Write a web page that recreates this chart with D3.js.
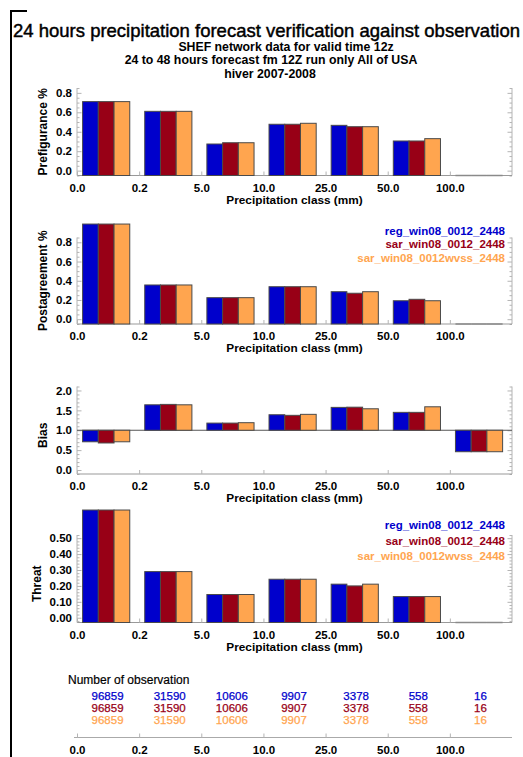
<!DOCTYPE html>
<html>
<head>
<meta charset="utf-8">
<script src="https://cdn.jsdelivr.net/npm/d3@7"></script>
<style>
  html, body { margin: 0; padding: 0; background: #fff; }
  svg { display: block; }
  text { font-family: "Liberation Sans", Arial, Helvetica, sans-serif; }
</style>
</head>
<body>
<div id="chart"></div>
<script>
// ---------------- DATA ----------------
const categories = ["0.0", "0.2", "5.0", "10.0", "25.0", "50.0", "100.0"];
const seriesNames = ["reg_win08_0012_2448", "sar_win08_0012_2448", "sar_win08_0012wvss_2448"];
const seriesColors = ["#0000cc", "#980016", "#ffa54f"];

const prefRegWin = [0.71, 0.61, 0.274, 0.477, 0.466, 0.305, null];
const prefSarWin = [0.71, 0.61, 0.287, 0.477, 0.452, 0.305, null];
const prefSarWvss = [0.71, 0.61, 0.287, 0.487, 0.452, 0.329, null];

const postRegWin = [0.99, 0.356, 0.224, 0.338, 0.286, 0.192, null];
const postSarWin = [0.99, 0.356, 0.224, 0.338, 0.270, 0.207, null];
const postSarWvss = [0.99, 0.356, 0.224, 0.338, 0.286, 0.192, null];

const biasRegWin = [0.71, 1.64, 1.18, 1.39, 1.575, 1.45, 0.46];
const biasSarWin = [0.68, 1.65, 1.18, 1.375, 1.58, 1.45, 0.46];
const biasSarWvss = [0.71, 1.64, 1.19, 1.40, 1.54, 1.59, 0.46];

const threatRegWin = [0.677, 0.29, 0.146, 0.242, 0.211, 0.133, null];
const threatSarWin = [0.677, 0.29, 0.146, 0.242, 0.200, 0.133, null];
const threatSarWvss = [0.677, 0.29, 0.146, 0.242, 0.211, 0.133, null];

const obsRegWin = [96859, 31590, 10606, 9907, 3378, 558, 16];
const obsSarWin = [96859, 31590, 10606, 9907, 3378, 558, 16];
const obsSarWvss = [96859, 31590, 10606, 9907, 3378, 558, 16];

const prefTicks = [0.0, 0.2, 0.4, 0.6, 0.8];
const postTicks = [0.0, 0.2, 0.4, 0.6, 0.8];
const biasTicks = [0.0, 0.5, 1.0, 1.5, 2.0];
const threatTicks = [0.0, 0.1, 0.2, 0.3, 0.4, 0.5];

const titleText = "24 hours precipitation forecast verification against observation";
const subtitles = ["SHEF network data for valid time 12z",
                   "24 to 48 hours forecast fm 12Z run only All of USA",
                   "hiver 2007-2008"];
const xTitle = "Precipitation class (mm)";
const obsTitle = "Number of observation";

// ---------------- LAYOUT ----------------
const W = 523, H = 757;
const svg = d3.select("#chart").append("svg").attr("width", W).attr("height", H);
svg.append("rect").attr("width", W).attr("height", H).attr("fill", "#fff");

const x = d3.scaleLinear().domain([0, categories.length]).range([77, 512]);
const groupOffset = 0.09, barW = 0.253;

const panels = [
  { label: "Prefigurance %", top: 88, bottom: 175.5, domain: [-0.05, 0.85], ticks: prefTicks, fmt: ".1f", minor: 0.05,
    data: [prefRegWin, prefSarWin, prefSarWvss], base: null, labelX: 43, labelDy: 0, legend: null },
  { label: "Postagreement %", top: 237.5, bottom: 324, domain: [-0.05, 0.85], ticks: postTicks, fmt: ".1f", minor: 0.05,
    data: [postRegWin, postSarWin, postSarWvss], base: null, labelX: 43, labelDy: 0, legend: [234.8, 247.5, 261.8] },
  { label: "Bias", top: 386.5, bottom: 474, domain: [-0.1, 2.1], ticks: biasTicks, fmt: ".1f", minor: 0.1,
    data: [biasRegWin, biasSarWin, biasSarWvss], base: 1.0, labelX: 43, labelDy: 5, legend: null },
  { label: "Threat", top: 535, bottom: 622.5, domain: [-0.03, 0.52], ticks: threatTicks, fmt: ".2f", minor: 0.02,
    data: [threatRegWin, threatSarWin, threatSarWvss], base: null, labelX: 37, labelDy: 5, legend: [529, 544.7, 559.7] }
];

const axisGray = "#b4b4b4";

// Border
svg.append("path").attr("d", "M11,757V11H27").attr("fill", "none").attr("stroke", "#000").attr("stroke-width", 2);

// Titles
const t = svg.append("text").attr("x", 13).attr("y", 37).attr("font-size", 17).attr("fill", "#000")
  .attr("stroke", "#000").attr("stroke-width", 0.45).text(titleText);
const tw = t.node().getComputedTextLength();
t.attr("font-size", 17 * 507 / tw);

const subX = [286, 271, 270], subY = [51, 64, 78];
subtitles.forEach((s, i) => {
  svg.append("text").attr("x", subX[i]).attr("y", subY[i]).attr("text-anchor", "middle")
    .attr("font-size", 12.3).attr("font-weight", "bold").text(s);
});

panels.forEach(p => {
  const y = d3.scaleLinear().domain(p.domain).range([p.bottom, p.top]);
  const g = svg.append("g");
  const minorVals = d3.range(Math.ceil(p.domain[0] / p.minor) * p.minor, p.domain[1] + 1e-9, p.minor)
      .filter(v => !p.ticks.some(m => Math.abs(m - v) < 1e-6));

  // left axis
  const la = g.append("g").attr("transform", `translate(${x.range()[0]},0)`)
    .call(d3.axisLeft(y).tickValues(p.ticks).tickSize(-4.5).tickPadding(5).tickFormat(d3.format(p.fmt)));
  la.select(".domain").attr("stroke", axisGray).attr("d", `M0,${p.top}V${p.bottom}`);
  la.selectAll(".tick line").attr("stroke", axisGray);
  la.selectAll(".tick text").attr("font-size", 11.5).attr("font-weight", "bold").attr("fill", "#000")
    .attr("font-family", "Liberation Sans, Arial, sans-serif");
  const lm = g.append("g").attr("transform", `translate(${x.range()[0]},0)`)
    .call(d3.axisLeft(y).tickValues(minorVals).tickSize(-2.5).tickFormat(""));
  lm.select(".domain").remove();
  lm.selectAll(".tick line").attr("stroke", axisGray);

  // right axis
  const ra = g.append("g").attr("transform", `translate(${x.range()[1]},0)`)
    .call(d3.axisRight(y).tickValues(p.ticks).tickSize(-4.5).tickFormat(""));
  ra.select(".domain").attr("stroke", axisGray).attr("d", `M0,${p.top}V${p.bottom}`);
  ra.selectAll(".tick line").attr("stroke", axisGray);
  const rm = g.append("g").attr("transform", `translate(${x.range()[1]},0)`)
    .call(d3.axisRight(y).tickValues(minorVals).tickSize(-2.5).tickFormat(""));
  rm.select(".domain").remove();
  rm.selectAll(".tick line").attr("stroke", axisGray);

  // bottom axis
  const ba = g.append("g").attr("transform", `translate(0,${p.bottom})`)
    .call(d3.axisBottom(x).tickValues(d3.range(categories.length)).tickSize(-4).tickPadding(8)
      .tickFormat(i => categories[i]));
  ba.select(".domain").attr("stroke", "#999").attr("d", `M${x.range()[0]},0H${x.range()[1]}`);
  ba.selectAll(".tick line").attr("stroke", axisGray);
  ba.selectAll(".tick text").attr("font-size", 11.5).attr("font-weight", "bold").attr("fill", "#000")
    .attr("font-family", "Liberation Sans, Arial, sans-serif");

  // axis titles
  g.append("text").attr("x", (x.range()[0] + x.range()[1]) / 2).attr("y", p.bottom + 28)
    .attr("text-anchor", "middle").attr("font-size", 11.8).attr("font-weight", "bold").text(xTitle);
  const cy = (p.top + p.bottom) / 2 + p.labelDy;
  g.append("text").attr("transform", `translate(${p.labelX + 4},${cy}) rotate(-90)`)
    .attr("text-anchor", "middle").attr("font-size", 12).attr("font-weight", "bold").text(p.label);

  // base line for bias
  const baseVal = p.base !== null ? p.base : p.domain[0];
  if (p.base !== null) {
    g.append("line").attr("x1", x.range()[0]).attr("x2", x.range()[1])
      .attr("y1", y(p.base)).attr("y2", y(p.base)).attr("stroke", "#555").attr("stroke-width", 1);
  }

  // bars
  p.data.forEach((vals, s) => {
    vals.forEach((v, i) => {
      const x0 = x(i + groupOffset + s * barW);
      const w = x(barW) - x(0);
      if (v === null) {
        g.append("line").attr("x1", x0).attr("x2", x0 + w).attr("y1", y(baseVal)).attr("y2", y(baseVal))
          .attr("stroke", "#8a8a8a").attr("stroke-width", 1.5);
      } else {
        const y0 = y(baseVal), y1 = y(v);
        g.append("rect").attr("x", x0).attr("width", w)
          .attr("y", Math.min(y0, y1)).attr("height", Math.abs(y0 - y1))
          .attr("fill", seriesColors[s]).attr("stroke", "#4a4a4a").attr("stroke-width", 1);
      }
    });
  });

  // legend
  if (p.legend) {
    seriesNames.forEach((n, s) => {
      g.append("text").attr("x", 505).attr("y", p.legend[s]).attr("text-anchor", "end")
        .attr("font-size", 11.5).attr("font-weight", "bold").attr("fill", seriesColors[s]).text(n);
    });
  }
});

// Number of observation table
svg.append("text").attr("x", 68).attr("y", 683.5).attr("font-size", 12).attr("fill", "#000")
  .attr("stroke", "#000").attr("stroke-width", 0.2).text(obsTitle);
const obsRows = [obsRegWin, obsSarWin, obsSarWvss];
const obsY = [699.5, 711.5, 723.8];
obsRows.forEach((row, s) => {
  row.forEach((v, i) => {
    svg.append("text").attr("x", x(i + 0.5) - 0.5).attr("y", obsY[s]).attr("text-anchor", "middle")
      .attr("font-size", 11.5).attr("fill", seriesColors[s])
      .attr("stroke", seriesColors[s]).attr("stroke-width", 0.25).text(v);
  });
});

// bottom standalone axis
const bx = svg.append("g").attr("transform", "translate(0,737.5)")
  .call(d3.axisBottom(x).tickValues(d3.range(categories.length)).tickSize(-4).tickPadding(8)
    .tickFormat(i => categories[i]));
bx.select(".domain").attr("stroke", "#aaa").attr("d", `M${x.range()[0] - 3},0H${x.range()[1]}`);
bx.selectAll(".tick line").attr("stroke", axisGray);
bx.selectAll(".tick text").attr("font-size", 11.5).attr("font-weight", "bold").attr("fill", "#000")
  .attr("font-family", "Liberation Sans, Arial, sans-serif");
</script>
</body>
</html>
